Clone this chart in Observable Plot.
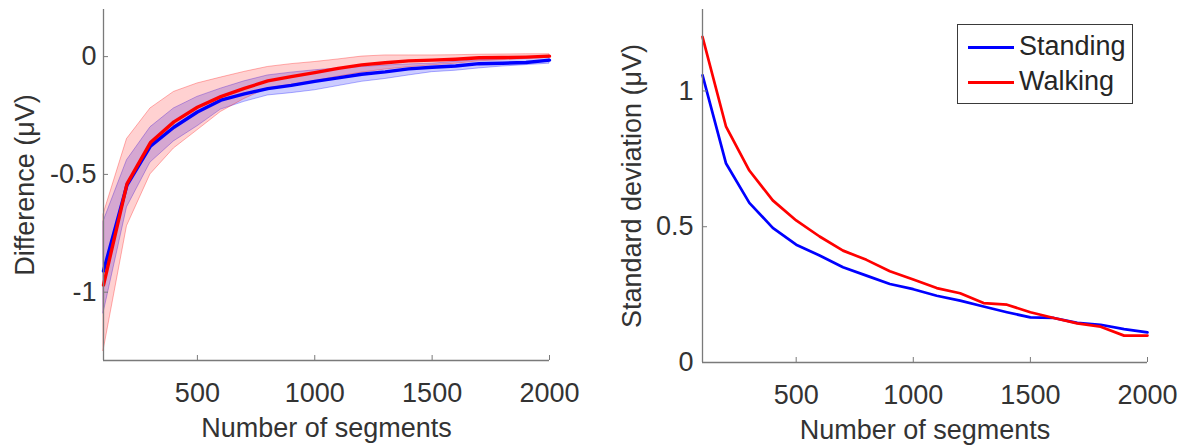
<!DOCTYPE html>
<html>
<head>
<meta charset="utf-8">
<script src="https://cdn.jsdelivr.net/npm/d3@7"></script>
<script src="https://cdn.jsdelivr.net/npm/@observablehq/plot@0.6"></script>
<style>
  body { margin: 0; background: #fff; }
  #wrap { position: relative; width: 1184px; height: 446px; display: flex; }
  #wrap svg { display: block; }
  .legend { position: absolute; left: 957px; top: 24px; width: 174px; height: 78px;
            border: 1px solid #3a3a3a; background: #fff; box-sizing: content-box;
            font-family: "Liberation Sans", Arial, Helvetica, sans-serif; font-size: 27px; color: #262626; }
  .legend .sw { position: absolute; left: 10px; width: 46px; height: 3px; }
  .legend .lb { position: absolute; left: 61px; line-height: 27px; white-space: nowrap; }
</style>
</head>
<body>
<div id="wrap"></div>
<script>
// ---------- data ----------
const seriesNames = ["Standing", "Walking"];
const seriesColors = ["#0000ff", "#ff0000"];

const segments = [100, 200, 300, 400, 500, 600, 700, 800, 900, 1000,
                  1100, 1200, 1300, 1400, 1500, 1600, 1700, 1800, 1900, 2000];

// Left panel: difference (µV), mean and shaded band
const standingDiff   = [-0.91, -0.545, -0.38, -0.30, -0.235, -0.185, -0.158, -0.136, -0.122, -0.105,
                        -0.09, -0.075, -0.065, -0.052, -0.045, -0.040, -0.030, -0.028, -0.025, -0.015];
const standingDiffLo = [-1.09, -0.64, -0.45, -0.36, -0.296, -0.225, -0.192, -0.165, -0.155, -0.143,
                        -0.125, -0.107, -0.095, -0.080, -0.066, -0.060, -0.050, -0.042, -0.036, -0.030];
const standingDiffHi = [-0.70, -0.44, -0.30, -0.22, -0.171, -0.136, -0.105, -0.080, -0.068, -0.058,
                        -0.050, -0.044, -0.038, -0.033, -0.030, -0.022, -0.015, -0.010, -0.007, -0.004];
const walkingDiff    = [-0.97, -0.54, -0.365, -0.277, -0.215, -0.170, -0.135, -0.103, -0.085, -0.068,
                        -0.050, -0.035, -0.026, -0.018, -0.015, -0.011, -0.005, -0.004, -0.002, 0.002];
const walkingDiffLo  = [-1.25, -0.72, -0.50, -0.39, -0.313, -0.235, -0.180, -0.135, -0.120, -0.105,
                        -0.085, -0.068, -0.055, -0.045, -0.037, -0.030, -0.020, -0.015, -0.010, -0.005];
const walkingDiffHi  = [-0.67, -0.35, -0.22, -0.15, -0.114, -0.089, -0.065, -0.044, -0.032, -0.023,
                        -0.012, 0.000, 0.005, 0.005, 0.005, 0.006, 0.008, 0.009, 0.010, 0.010];

// Right panel: standard deviation (µV)
const standingSD = [1.058, 0.734, 0.588, 0.496, 0.434, 0.394, 0.351, 0.320, 0.289, 0.270,
                    0.246, 0.228, 0.206, 0.185, 0.166, 0.164, 0.146, 0.139, 0.123, 0.111];
const walkingSD  = [1.199, 0.870, 0.707, 0.597, 0.523, 0.464, 0.412, 0.378, 0.336, 0.306,
                    0.274, 0.255, 0.219, 0.213, 0.185, 0.164, 0.144, 0.132, 0.099, 0.099];

const xTicks = [500, 1000, 1500, 2000];
const yTicksLeft = [-1, -0.5, 0];
const yTicksRight = [0, 0.5, 1];
const xLabel = "Number of segments";
const yLabelLeft = "Difference (\u03BCV)";
const yLabelRight = "Standard deviation (\u03BCV)";
const xDomain = [100, 2000];
const yDomainLeft = [-1.29, 0.2];
const yDomainRight = [0, 1.3];

// ---------- tables ----------
const diffRows = [];
const sdRows = [];
segments.forEach((x, i) => {
  diffRows.push({series: "Standing", x, y: standingDiff[i], lo: standingDiffLo[i], hi: standingDiffHi[i]});
  sdRows.push({series: "Standing", x, y: standingSD[i]});
});
segments.forEach((x, i) => {
  diffRows.push({series: "Walking", x, y: walkingDiff[i], lo: walkingDiffLo[i], hi: walkingDiffHi[i]});
  sdRows.push({series: "Walking", x, y: walkingSD[i]});
});

const font = '"Liberation Sans", Arial, Helvetica, sans-serif';
const axisColor = "#7a7a7a";
const textColor = "#333333";
const style = `font-family:${font};font-size:27px;color:${textColor};background:transparent;overflow:visible;`;
const color = {domain: seriesNames, range: seriesColors};

function axes(yTicks, yDomain, yLabel, yPad, yLabelDx) {
  return [
    Plot.ruleX([xDomain[0]], {stroke: axisColor, strokeWidth: 1.3}),
    Plot.ruleY([yDomain[0]], {stroke: axisColor, strokeWidth: 1.3}),
    // inward ticks
    Plot.axisX({ticks: xTicks, tickSize: 5, dy: -5, tickFormat: () => "", label: null, stroke: axisColor}),
    Plot.axisY({ticks: yTicks, tickSize: 5, dx: 5, tickFormat: () => "", label: null, stroke: axisColor}),
    // labels
    Plot.axisX({ticks: xTicks, tickSize: 0, tickPadding: 22, tickFormat: d => String(d), label: null}),
    Plot.axisY({ticks: yTicks, tickSize: 0, tickPadding: yPad, tickFormat: d => String(d), label: null}),
    Plot.text([xLabel], {text: d => d, frameAnchor: "bottom", dy: 68, lineAnchor: "middle", textAnchor: "middle", fill: textColor}),
    Plot.text([yLabel], {text: d => d, frameAnchor: "left", dx: -yLabelDx, rotate: -90, lineAnchor: "middle", textAnchor: "middle", fill: textColor})
  ];
}

const left = Plot.plot({
  width: 592, height: 446,
  marginLeft: 103, marginRight: 43, marginTop: 9, marginBottom: 86,
  x: {domain: xDomain},
  y: {domain: yDomainLeft},
  color,
  style,
  marks: [
    Plot.areaY(diffRows, {filter: d => d.series === "Standing", x: "x", y1: "lo", y2: "hi",
      fill: seriesColors[0], fillOpacity: 0.2, stroke: seriesColors[0], strokeOpacity: 0.3, strokeWidth: 1}),
    Plot.areaY(diffRows, {filter: d => d.series === "Walking", x: "x", y1: "lo", y2: "hi",
      fill: seriesColors[1], fillOpacity: 0.18, stroke: seriesColors[1], strokeOpacity: 0.3, strokeWidth: 1}),
    Plot.lineY(diffRows, {x: "x", y: "y", z: "series", stroke: "series", strokeWidth: 3.4}),
    ...axes(yTicksLeft, yDomainLeft, yLabelLeft, 7, 78)
  ]
});

const right = Plot.plot({
  width: 592, height: 446,
  marginLeft: 110, marginRight: 37, marginTop: 9, marginBottom: 84,
  x: {domain: xDomain},
  y: {domain: yDomainRight},
  color,
  style,
  marks: [
    Plot.lineY(sdRows, {x: "x", y: "y", z: "series", stroke: "series", strokeWidth: 2.7}),
    ...axes(yTicksRight, yDomainRight, yLabelRight, 9, 70)
  ]
});

const wrap = document.getElementById("wrap");
wrap.appendChild(left);
wrap.appendChild(right);

// legend
const lg = document.createElement("div");
lg.className = "legend";
seriesNames.forEach((name, i) => {
  const cy = 22 + i * 35;
  const sw = document.createElement("div");
  sw.className = "sw";
  sw.style.top = (cy - 1.5) + "px";
  sw.style.background = seriesColors[i];
  const lb = document.createElement("div");
  lb.className = "lb";
  lb.style.top = (cy - 14) + "px";
  lb.textContent = name;
  lg.appendChild(sw);
  lg.appendChild(lb);
});
wrap.appendChild(lg);
</script>
</body>
</html>
